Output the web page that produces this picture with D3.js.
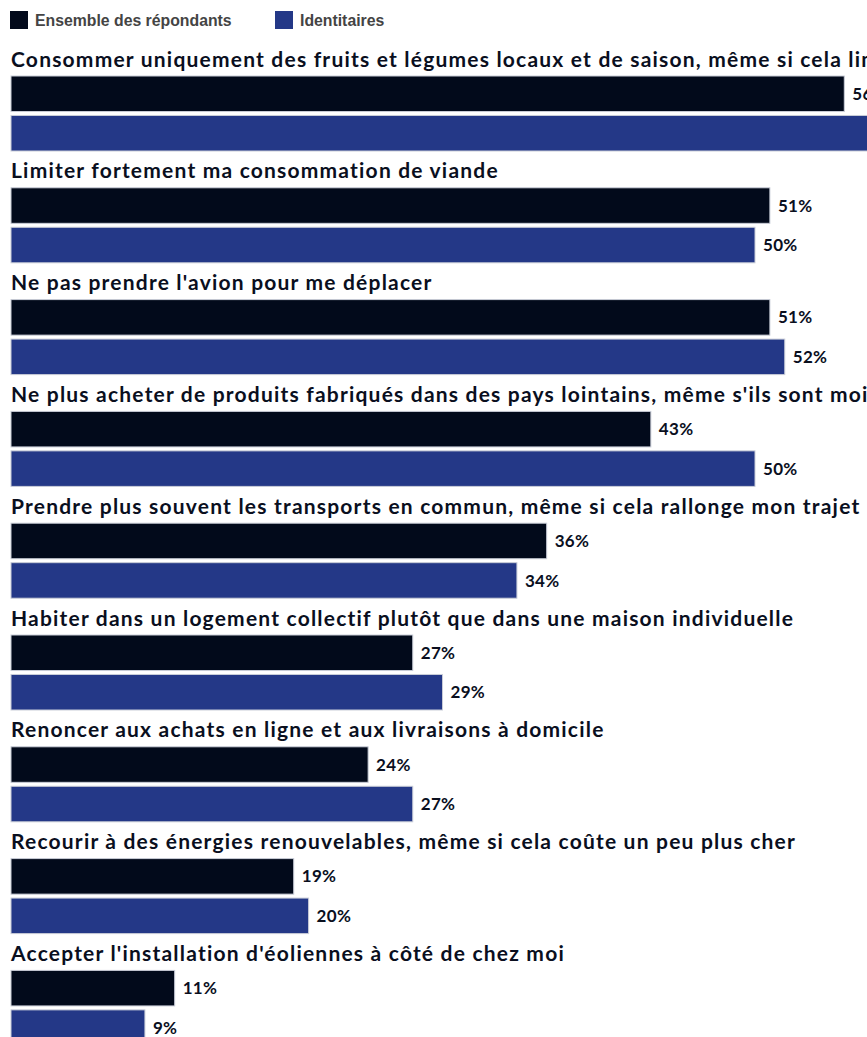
<!DOCTYPE html>
<html>
<head>
<meta charset="utf-8">
<script src="https://cdn.jsdelivr.net/npm/d3@7"></script>
<style>
  html, body { margin: 0; padding: 0; background: #fff; }
  svg { display: block; }
  .cat { font-family: Lato, "Open Sans", sans-serif; font-weight: 700; font-size: 21px; fill: #0a0f1e; letter-spacing: 1.2px; }
  .val { font-family: Lato, "Open Sans", sans-serif; font-weight: 700; font-size: 17px; fill: #0a0f1e; letter-spacing: 0.3px; }
  .leg { font-family: "Liberation Sans", Arial, sans-serif; font-weight: 700; font-size: 15.8px; fill: #444; }
</style>
</head>
<body>
<svg id="chart" width="867" height="1037"></svg>
<script>
// Actions people say they are ready to take, share of respondents (%)
const categories = [
  "Consommer uniquement des fruits et légumes locaux et de saison, même si cela limite mes choix",
  "Limiter fortement ma consommation de viande",
  "Ne pas prendre l'avion pour me déplacer",
  "Ne plus acheter de produits fabriqués dans des pays lointains, même s'ils sont moins chers",
  "Prendre plus souvent les transports en commun, même si cela rallonge mon trajet",
  "Habiter dans un logement collectif plutôt que dans une maison individuelle",
  "Renoncer aux achats en ligne et aux livraisons à domicile",
  "Recourir à des énergies renouvelables, même si cela coûte un peu plus cher",
  "Accepter l'installation d'éoliennes à côté de chez moi"
];
const seriesNames = ["Ensemble des répondants", "Identitaires"];
const ensemble = [56, 51, 51, 43, 36, 27, 24, 19, 11];
const identitaires = [59, 50, 52, 50, 34, 29, 27, 20, 9];
const colors = ["#020a1b", "#243887"];

const svg = d3.select("#chart");

// Legend
const legend = svg.append("g");
const legX = [10, 275];
seriesNames.forEach((name, i) => {
  const g = legend.append("g").attr("transform", `translate(${legX[i]},11)`);
  g.append("rect").attr("width", 18).attr("height", 18).attr("fill", colors[i]);
  g.append("text").attr("class", "leg").attr("x", 25).attr("y", 14.5).text(name);
});

// Scales
const x = d3.scaleLinear().domain([0, 100]).range([11, 11 + 1488]);
const groupStep = 111.8;
const y = d3.scaleBand()
  .domain(d3.range(categories.length))
  .range([41, 41 + groupStep * categories.length])
  .paddingInner(0).paddingOuter(0);
const inner = d3.scaleBand()
  .domain([0, 1])
  .range([35, 110])
  .paddingInner(0.1);

const rows = categories.map((c, i) => ({
  label: c,
  values: [ensemble[i], identitaires[i]]
}));

const group = svg.append("g").selectAll("g.row")
  .data(rows)
  .join("g")
  .attr("class", "row")
  .attr("transform", (d, i) => `translate(0,${y(i)})`);

group.append("text")
  .attr("class", "cat")
  .attr("x", 11)
  .attr("y", 25.5)
  .text(d => d.label);

group.selectAll("rect.bar")
  .data(d => d.values.map((v, k) => ({ v, k })))
  .join("rect")
  .attr("class", "bar")
  .attr("x", x(0))
  .attr("y", d => inner(d.k))
  .attr("width", d => x(d.v) - x(0))
  .attr("height", inner.bandwidth())
  .attr("fill", d => colors[d.k])
  .attr("stroke", "#c9cdd8")
  .attr("stroke-width", 1);

group.selectAll("text.val")
  .data(d => d.values.map((v, k) => ({ v, k })))
  .join("text")
  .attr("class", "val")
  .attr("x", d => x(d.v) + 8)
  .attr("y", d => inner(d.k) + inner.bandwidth() / 2)
  .attr("dy", "0.36em")
  .text(d => d.v + "%");
</script>
</body>
</html>
